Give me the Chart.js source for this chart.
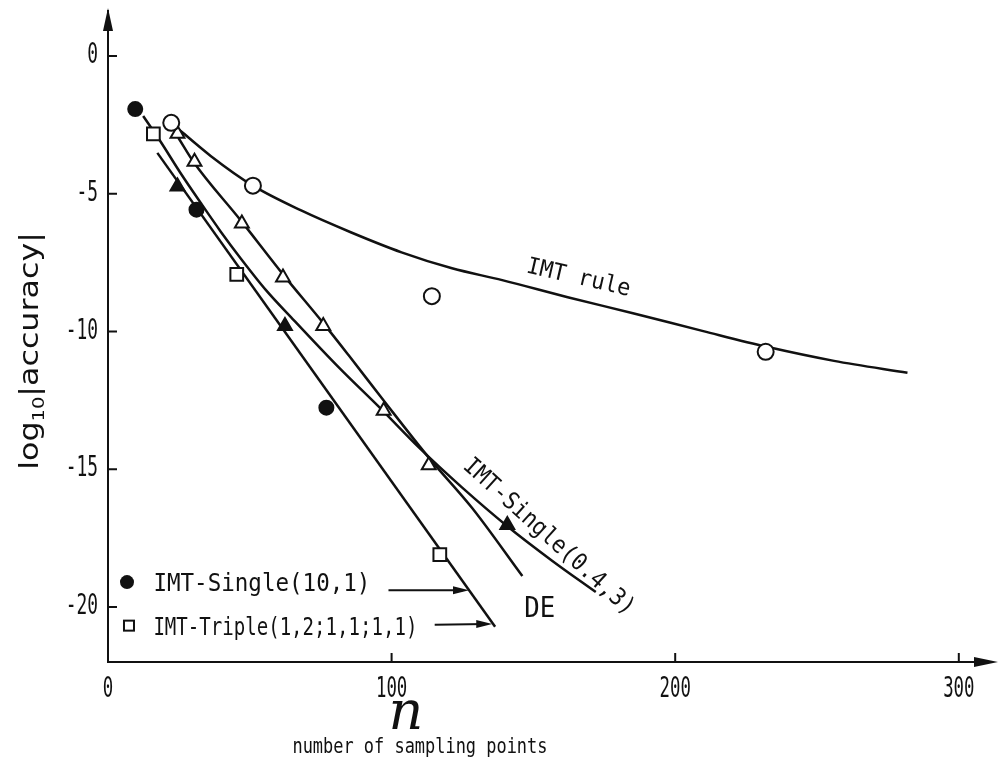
<!DOCTYPE html>
<html>
<head>
<meta charset="utf-8">
<script src="https://cdn.jsdelivr.net/npm/chart.js@4.4.1/dist/chart.umd.min.js"></script>
<style>
  html, body { margin: 0; padding: 0; background: #fff; }
</style>
</head>
<body>
<canvas id="plot" width="1001" height="765"></canvas>
<script>
// measured points: n (number of sampling points) vs log10|accuracy|
const singleN = [9.6, 31.2, 77.0];                 // IMT-Single(10,1), filled circles
const singleErr = [-1.93, -5.58, -12.77];
const tripleN = [16.0, 45.4, 117.0];               // IMT-Triple(1,2;1,1;1,1), squares
const tripleErr = [-2.83, -7.93, -18.1];
const imtN = [22.3, 51.1, 114.2, 231.9];           // IMT rule, open circles
const imtErr = [-2.43, -4.71, -8.72, -10.74];
const deN = [24.5, 30.5, 47.2, 61.7, 75.9, 97.2, 113.1];   // DE, open triangles
const deErr = [-2.83, -3.84, -6.08, -8.04, -9.8, -12.88, -14.86];
const s043N = [24.5, 62.4, 140.8];                 // IMT-Single(0.4,3), filled triangles
const s043Err = [-4.74, -9.8, -17.03];

// hand-drawn trend curves
const imtCurveN = [22.3, 36.2, 51.1, 68.1, 85.8, 103.5, 121.3, 139.0, 162.1, 185.1, 209.9, 232.3, 256.0, 281.9];
const imtCurveErr = [-2.43, -3.63, -4.71, -5.61, -6.41, -7.13, -7.71, -8.14, -8.76, -9.34, -9.99, -10.56, -11.07, -11.5];
const s043CurveN = [12.4, 18.4, 25.5, 32.6, 39.7, 46.8, 55.7, 64.5, 81.2, 96.5, 109.6, 124.8, 140.8, 156.7, 172.0];
const s043CurveErr = [-2.18, -3.09, -4.24, -5.32, -6.37, -7.35, -8.5, -9.48, -11.29, -12.84, -14.21, -15.66, -17.07, -18.33, -19.46];
const deCurveN = [24.8, 30.1, 46.8, 61.7, 75.9, 84.8, 97.2, 113.1, 128.4, 146.1];
const deCurveErr = [-2.97, -3.84, -5.97, -7.93, -9.7, -10.86, -12.51, -14.58, -16.41, -18.88];
const singleLineN = [17.4, 136.5];
const singleLineErr = [-3.52, -20.72];

const xTicks = [0, 100, 200, 300];
const yTicks = [0, -5, -10, -15, -20];

const ink = '#111';
const mono = '"DejaVu Sans Mono", monospace';
const pts = (xs, ys) => xs.map((v, i) => ({ x: v, y: ys[i] }));

function markers(xs, ys, style, filled, r) {
  return {
    data: pts(xs, ys), showLine: false, order: 0,
    pointStyle: style, pointRadius: r, pointHoverRadius: r,
    pointBackgroundColor: filled ? ink : '#fff',
    pointBorderColor: ink, pointBorderWidth: 2
  };
}
function curve(xs, ys) {
  return {
    data: pts(xs, ys), showLine: true, order: 1,
    borderColor: ink, borderWidth: 2.5, pointRadius: 0,
    cubicInterpolationMode: 'monotone'
  };
}

// labels written on the plot, anchored in data units
const notes = [
  { text: 'IMT rule', n: 147.2, e: -7.85, rot: 13, size: 23, w: 106 },
  { text: 'IMT-Single(0.4,3)', n: 124.8, e: -14.94, rot: 42, size: 24, w: 222 },
  { text: 'DE', n: 146.8, e: -20.36, rot: 0, size: 28, w: 31 },
  { text: 'IMT-Single(10,1)', n: 16.0, e: -19.42, rot: 0, size: 25, w: 217 },
  { text: 'IMT-Triple(1,2;1,1;1,1)', n: 16.0, e: -21.01, rot: 0, size: 25, w: 264 }
];
const pointers = [
  [98.9, -19.4, 127.3, -19.4],
  [115.2, -20.65, 135.5, -20.62]
];

// narrow typewriter-like text: draw then squeeze horizontally
function squeezed(ctx, text, x, y, size, sx, align) {
  ctx.save();
  ctx.translate(x, y);
  ctx.scale(sx, 1);
  ctx.font = size + 'px ' + mono;
  ctx.textAlign = align;
  ctx.fillText(text, 0, 0);
  ctx.restore();
}

const inkPlugin = {
  id: 'ink',
  afterDraw(chart) {
    const { ctx, chartArea: a } = chart;
    const sx = chart.scales.x, sy = chart.scales.y;
    const px = v => sx.getPixelForValue(v), py = v => sy.getPixelForValue(v);
    ctx.save();
    ctx.fillStyle = ink; ctx.strokeStyle = ink; ctx.lineWidth = 2;

    // axis arrowheads
    ctx.beginPath();
    ctx.moveTo(a.left, a.top - 3); ctx.lineTo(a.left - 5, a.top + 20); ctx.lineTo(a.left + 5, a.top + 20);
    ctx.closePath(); ctx.fill();
    ctx.beginPath();
    ctx.moveTo(a.right + 8, a.bottom); ctx.lineTo(a.right - 16, a.bottom - 5); ctx.lineTo(a.right - 16, a.bottom + 5);
    ctx.closePath(); ctx.fill();

    // inward tick marks
    ctx.beginPath();
    yTicks.forEach(v => { ctx.moveTo(a.left, py(v)); ctx.lineTo(a.left + 9, py(v)); });
    xTicks.filter(v => v > 0).forEach(v => { ctx.moveTo(px(v), a.bottom); ctx.lineTo(px(v), a.bottom - 9); });
    ctx.stroke();

    // tick labels
    ctx.textBaseline = 'middle';
    yTicks.forEach(v => squeezed(ctx, String(v), a.left - 10, py(v), 28, 0.64, 'right'));
    xTicks.forEach(v => squeezed(ctx, String(v), px(v), a.bottom + 28, 28, 0.62, 'center'));

    // legend pointers
    pointers.forEach(([n0, e0, n1, e1]) => {
      const x0 = px(n0), y0 = py(e0), x1 = px(n1), y1 = py(e1);
      ctx.beginPath(); ctx.moveTo(x0, y0); ctx.lineTo(x1 - 6, y1); ctx.stroke();
      ctx.beginPath(); ctx.moveTo(x1, y1); ctx.lineTo(x1 - 16, y1 - 4); ctx.lineTo(x1 - 16, y1 + 4);
      ctx.closePath(); ctx.fill();
    });

    // legend symbols
    ctx.beginPath(); ctx.arc(px(6.7), py(-19.1), 7, 0, Math.PI * 2); ctx.fill();
    ctx.strokeRect(px(7.4) - 5, py(-20.68) - 5, 10, 10);

    // text on the plot
    ctx.textBaseline = 'alphabetic'; ctx.textAlign = 'left';
    notes.forEach(t => {
      ctx.save();
      ctx.translate(px(t.n), py(t.e));
      ctx.rotate(t.rot * Math.PI / 180);
      ctx.font = t.size + 'px ' + mono;
      ctx.fillText(t.text, 0, 0, t.w);
      ctx.restore();
    });

    // x axis title
    ctx.textAlign = 'center';
    ctx.font = 'italic 54px "DejaVu Serif"';
    ctx.fillText('n', px(105), 729);
    ctx.font = '22px ' + mono;
    ctx.fillText('number of sampling points', px(110), 753, 255);

    // y axis title, rotated and stretched along the text
    ctx.save();
    ctx.translate(38, 351);
    ctx.rotate(-Math.PI / 2);
    ctx.scale(1.22, 1);
    ctx.textAlign = 'left';
    const main = '26px "DejaVu Sans"', sub = '16px "DejaVu Sans"';
    ctx.font = main; const w1 = ctx.measureText('log').width;
    ctx.font = sub; const w2 = ctx.measureText('10').width;
    ctx.font = main; const w3 = ctx.measureText('|accuracy|').width;
    let cx = -(w1 + w2 + w3) / 2;
    ctx.font = main; ctx.fillText('log', cx, 0); cx += w1;
    ctx.font = sub; ctx.fillText('10', cx, 6); cx += w2;
    ctx.font = main; ctx.fillText('|accuracy|', cx, 0);
    ctx.restore();

    ctx.restore();
  }
};

new Chart(document.getElementById('plot'), {
  type: 'scatter',
  data: {
    datasets: [
      markers(singleN, singleErr, 'circle', true, 7),
      markers(tripleN, tripleErr, 'rect', false, 9),
      markers(imtN, imtErr, 'circle', false, 8),
      markers(deN, deErr, 'triangle', false, 8),
      markers(s043N, s043Err, 'triangle', true, 8),
      curve(imtCurveN, imtCurveErr),
      curve(s043CurveN, s043CurveErr),
      curve(deCurveN, deCurveErr),
      curve(singleLineN, singleLineErr)
    ]
  },
  options: {
    responsive: false,
    animation: false,
    devicePixelRatio: 1,
    layout: { padding: { top: 2, right: 5, left: 0, bottom: 0 } },
    plugins: { legend: { display: false }, tooltip: { enabled: false } },
    scales: {
      x: {
        type: 'linear', min: 0, max: 311,
        afterFit: s => { s.height = 103; s.paddingLeft = 0; s.paddingRight = 0; },
        grid: { display: false, drawTicks: false },
        border: { display: true, color: ink, width: 2 },
        ticks: { display: false }
      },
      y: {
        type: 'linear', min: -22, max: 1.63,
        afterFit: s => { s.width = 108; s.paddingTop = 0; s.paddingBottom = 0; },
        grid: { display: false, drawTicks: false },
        border: { display: true, color: ink, width: 2 },
        ticks: { display: false }
      }
    }
  },
  plugins: [inkPlugin]
});
</script>
</body>
</html>
